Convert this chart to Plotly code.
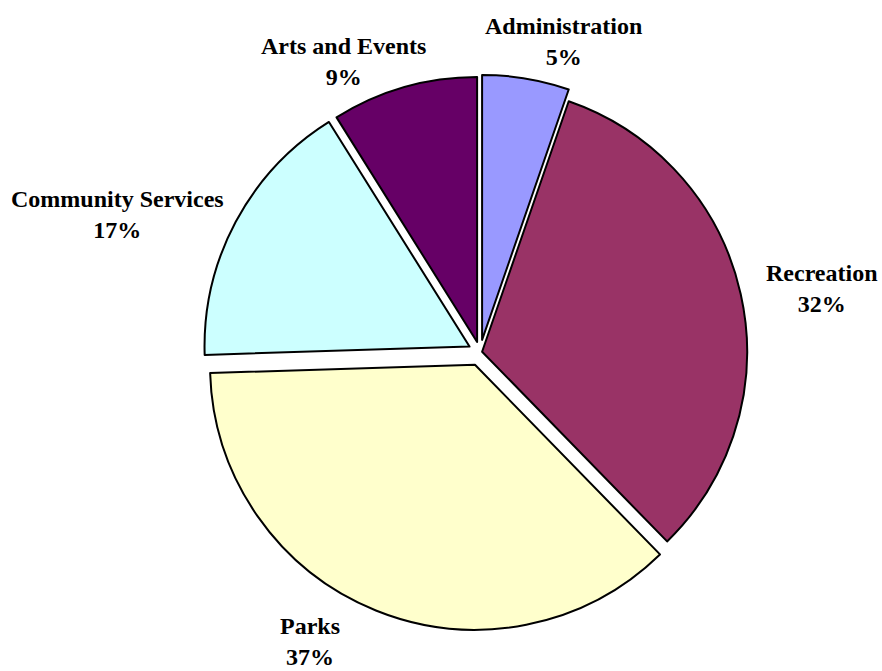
import plotly.graph_objects as go

categories = ["Administration", "Recreation", "Parks", "Community Services", "Arts and Events"]
values = [5.3, 32.4, 36.8, 16.6, 8.9]
colors = ["#9999FF", "#993366", "#FFFFCC", "#CCFFFF", "#660066"]
pulls = [0.047, 0.008, 0.051, 0.045, 0.040]

# label box centres in paper fractions (x, y)
label_pos = [(563 / 882, 1 - 41 / 671), (822 / 882, 1 - 288 / 671), (310 / 882, 1 - 641 / 671),
             (117 / 882, 1 - 214 / 671), (343 / 882, 1 - 61 / 671)]

fig = go.Figure(go.Pie(
    labels=categories,
    values=values,
    sort=False,
    direction="clockwise",
    rotation=0,
    pull=pulls,
    marker=dict(colors=colors, line=dict(color="black", width=2)),
    textinfo="none",
    domain=dict(x=[0.2285, 0.86], y=[0.0601, 0.8902]),
    showlegend=False,
    hoverinfo="label+percent",
))

total = sum(values)
for cat, val, (lx, ly) in zip(categories, values, label_pos):
    fig.add_annotation(
        x=lx, y=ly, xref="paper", yref="paper",
        xanchor="center", yanchor="middle",
        text=f"<b>{cat}</b><br><b>{round(val / total * 100)}%</b>",
        showarrow=False,
        font=dict(family="Liberation Serif", size=24, color="black"),
        align="center",
        borderpad=0,
    )

fig.update_layout(
    width=882, height=671,
    margin=dict(l=0, r=0, t=0, b=0),
    paper_bgcolor="white",
    plot_bgcolor="white",
)

fig.write_html("out.html")
